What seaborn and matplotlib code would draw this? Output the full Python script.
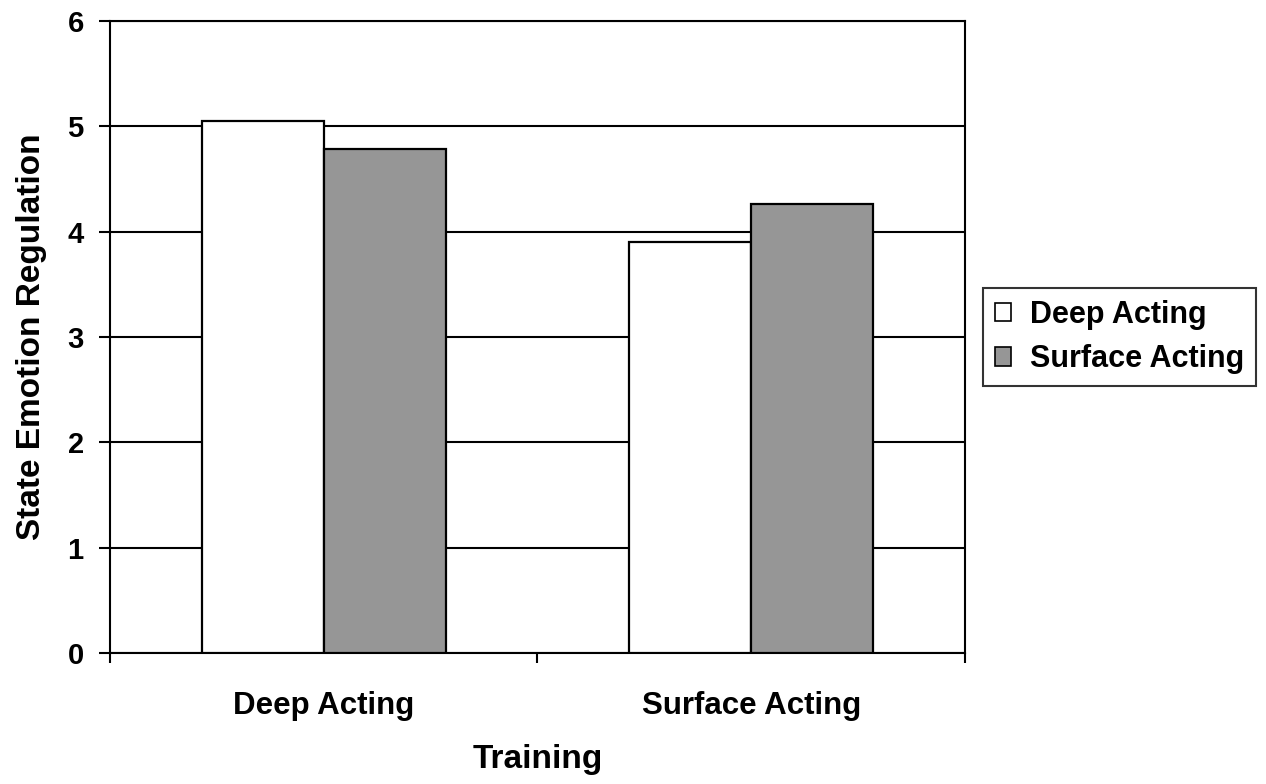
import matplotlib
matplotlib.use("Agg")
import matplotlib.pyplot as plt
import seaborn as sns
import pandas as pd

# Mean state emotion regulation by training condition and regulation type
training = ["Deep Acting", "Surface Acting"]
regulation = ["Deep Acting", "Surface Acting"]
deep_values = [5.05, 3.90]
surface_values = [4.78, 4.26]
y_ticks = [0, 1, 2, 3, 4, 5, 6]

df = pd.DataFrame({
    "Training": training * 2,
    "Regulation": [regulation[0]] * 2 + [regulation[1]] * 2,
    "Score": deep_values + surface_values,
})

sns.set_style("white")
plt.rcParams["font.family"] = ["Liberation Sans", "DejaVu Sans"]
plt.rcParams["font.weight"] = "bold"
plt.rcParams["text.color"] = "black"
plt.rcParams["axes.labelcolor"] = "black"
plt.rcParams["xtick.color"] = "black"
plt.rcParams["ytick.color"] = "black"

fig = plt.figure(figsize=(12.66, 7.84), dpi=100)
ax = fig.add_axes([0.0869, 0.1667, 0.6753, 0.8069])

sns.barplot(data=df, x="Training", y="Score", hue="Regulation",
            order=training, hue_order=regulation,
            palette=["#ffffff", "#969696"], edgecolor="black", linewidth=1.6,
            width=0.57, errorbar=None, ax=ax, zorder=3)

ax.set_ylim(0, 6)
ax.set_xlim(-0.5, 1.5)
ax.set_yticks(y_ticks)
ax.set_yticklabels([str(t) for t in y_ticks], fontsize=21, fontweight="bold")
ax.yaxis.grid(True, color="black", linewidth=1.5, zorder=0)
ax.set_axisbelow(True)

# category separator ticks on the x axis
ax.set_xticks([0, 1])
ax.set_xticklabels(training, fontsize=22.5, fontweight="bold")
ax.set_xticks([-0.5, 0.5, 1.5], minor=True)
ax.tick_params(axis="x", which="major", bottom=True, length=0, pad=27)
ax.tick_params(axis="x", which="minor", bottom=True, length=7.5, width=1.5,
               direction="out", color="black")
ax.tick_params(axis="y", which="major", left=True, length=8, width=1.5,
               direction="out", color="black", pad=11)

for s in ax.spines.values():
    s.set_visible(True)
    s.set_color("black")
    s.set_linewidth(1.5)

ax.set_xlabel("Training", fontsize=24, fontweight="bold", labelpad=17)
ax.set_ylabel("State Emotion Regulation", fontsize=24, fontweight="bold", labelpad=15)

leg = ax.legend(title=None, loc="center left", bbox_to_anchor=(1.021, 0.5),
                frameon=True, fancybox=False, edgecolor="black",
                prop={"size": 22, "weight": "bold"},
                handlelength=0.55, handleheight=0.55, handletextpad=0.6,
                borderpad=0.38, labelspacing=0.47, borderaxespad=0)
leg.get_frame().set_linewidth(1.5)
for h in leg.legend_handles:
    h.set_edgecolor("black")
    h.set_linewidth(1.2)

fig.savefig("out.png", dpi=100)
